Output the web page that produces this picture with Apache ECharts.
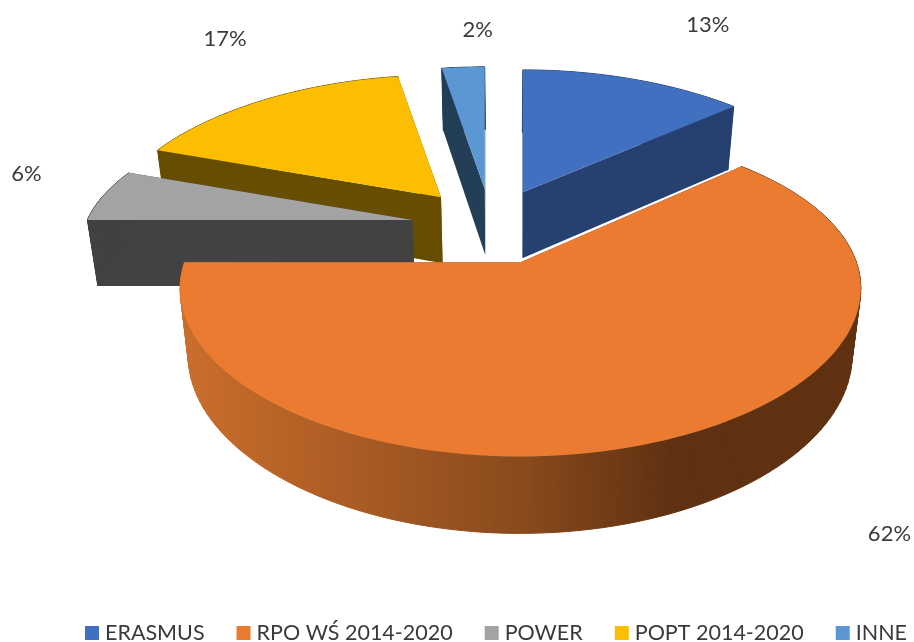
<!DOCTYPE html>
<html>
<head>
<meta charset="utf-8">
<style>html,body{margin:0;padding:0;background:#fff}#c{width:914px;height:642px}</style>
<script src="https://cdn.jsdelivr.net/npm/echarts@6/dist/echarts.min.js"></script>
</head>
<body>
<div id="c"></div>
<script>
const categories = ['ERASMUS', 'RPO WŚ 2014-2020', 'POWER', 'POPT 2014-2020', 'INNE'];
const values = [13, 62, 6, 16.51, 2.49];
const topColors = ['#4170c0', '#ea7b31', '#a3a3a3', '#fbbe00', '#5b98d3'];
const wallColors = ['#264070', null, '#424242', '#664d00', '#223f57'];
const drawOrder = [0, 4, 3, 2, 1];
const labelOffsets = [[185, -167], [369, 272], [-386, -46], [-216, -158], [-7, -159]];

// projection of the tilted pie: the exploded front slice sits nearer the viewer than the rear ones
const rearLens = { rx: 325, kx: 0.18, ry: 132, ky: 0.08 };
const frontLens = { rx: 336, kx: 0.16, ry: 158, ky: 0.186 };
const sliceLens = [rearLens, frontLens, rearLens, rearLens, rearLens];
const view = { cx: 491, cy: 227, explodeX: 80, explodeY: 38,
               depth: 66, depthGrow: 48, vanishX: 505, shrink: 0.975 };
const total = values.reduce((a, b) => a + b, 0);

function slice(i) {
  let start = 0;
  for (let j = 0; j < i; j++) start += values[j];
  return [start / total * 2 * Math.PI, (start + values[i]) / total * 2 * Math.PI];
}
function project(apex, a, lens) {
  const X = Math.sin(a), Y = Math.cos(a), s = 1 / (1 + lens.ky * Y);
  return { x: apex[0] + lens.rx * X / (1 + lens.kx * Y), y: apex[1] - lens.ry * Y * s, s };
}
function lower(p) {
  return [view.vanishX + (p.x - view.vanishX) * view.shrink,
          p.y + view.depth + view.depthGrow * (p.s - 1)];
}
const orangeWall = new echarts.graphic.LinearGradient(179, 0, 864, 0, [
  { offset: 0, color: '#cb6e2c' },
  { offset: 0.5, color: '#8a4a1c' },
  { offset: 0.72, color: '#5f3111' },
  { offset: 1, color: '#5f3111' }
], true);

function renderSlice(i) {
  return function (params, api) {
    const [a0, a1] = slice(i);
    const mid = (a0 + a1) / 2;
    const lens = sliceLens[i];
    const apex = [view.cx + view.explodeX * Math.sin(mid), view.cy - view.explodeY * Math.cos(mid)];
    const n = 120, arc = [];
    for (let t = 0; t <= n; t++) arc.push(project(apex, a0 + (a1 - a0) * t / n, lens));
    const apexP = { x: apex[0], y: apex[1], s: 1 };
    const wall = wallColors[i] || orangeWall;
    const poly = (pts, fill, edge) => ({ type: 'polygon', shape: { points: pts }, silent: true,
      style: edge ? { fill, stroke: fill, lineWidth: 1 } : { fill } });
    const topPts = [[apexP.x, apexP.y]].concat(arc.map(p => [p.x, p.y]));
    const wallQuad = p => [[apexP.x, apexP.y], [p.x, p.y], lower(p), lower(apexP)];
    const strips = [];
    for (let t = 0; t < n; t++) {
      const p = arc[t], q = arc[t + 1];
      strips.push(poly([[p.x, p.y], [q.x, q.y], lower(q), lower(p)], wall, true));
    }
    const off = labelOffsets[i];
    return {
      type: 'group',
      children: [
        poly(wallQuad(arc[n]), wall),
        poly(wallQuad(arc[0]), wall)
      ].concat(strips, [
        poly(topPts, topColors[i]),
        { type: 'text', silent: true, style: {
            x: apex[0] + off[0], y: apex[1] + off[1],
            text: Math.round(api.value(0) / total * 100) + '%',
            font: '22px Lato', fill: '#3a3a3a', align: 'center', verticalAlign: 'middle' } }
      ])
    };
  };
}

const chart = echarts.init(document.getElementById('c'), null, { renderer: 'canvas' });
chart.setOption({
  animation: false,
  backgroundColor: '#fff',
  legend: {
    data: categories, left: 85, top: 622, itemWidth: 14, itemHeight: 14, itemGap: 32, icon: 'rect',
    padding: 0, selectedMode: false,
    textStyle: { fontFamily: 'Lato', fontSize: 21.5, color: '#3a3a3a', padding: [0, 0, 0, 1] }
  },
  series: categories.map((name, i) => ({
    type: 'custom', name, coordinateSystem: 'none', z: 2 + drawOrder.indexOf(i),
    itemStyle: { color: topColors[i] },
    data: [[values[i]]],
    renderItem: renderSlice(i)
  }))
});
</script>
</body>
</html>
